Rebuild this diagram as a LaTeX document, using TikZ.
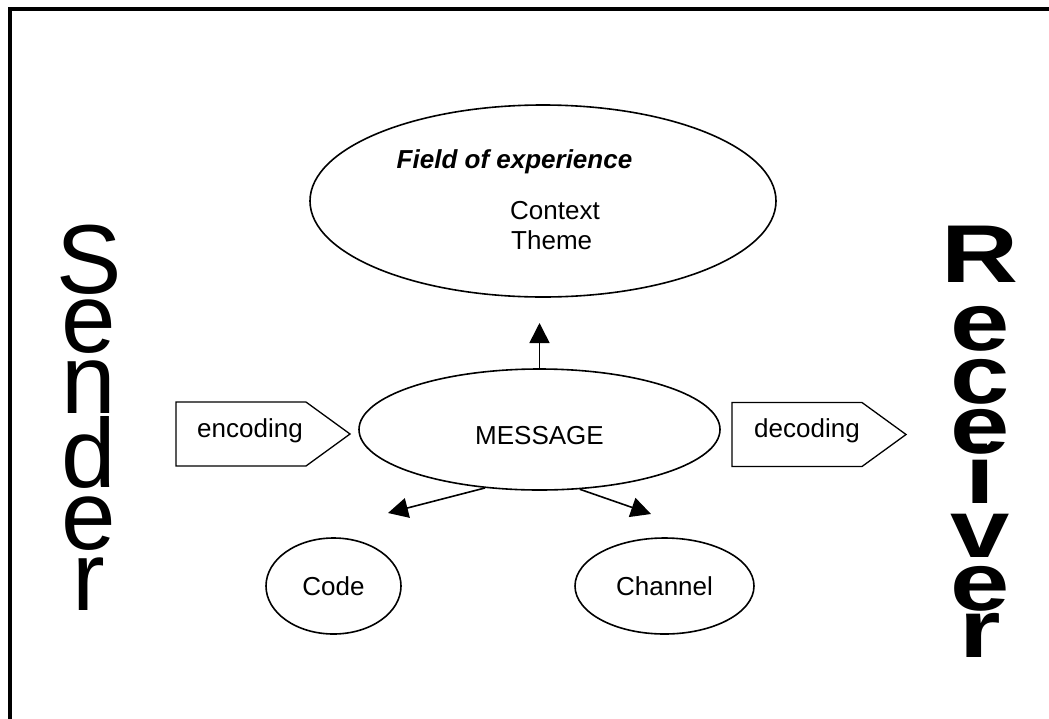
\documentclass[tikz,border=0pt]{standalone}
\usepackage{fontspec}
\setmainfont{Liberation Sans}
\usetikzlibrary{shapes.geometric,shapes.symbols,arrows.meta}

\begin{document}
\begin{tikzpicture}[x=1pt,y=-1pt,
  oval/.style={ellipse, draw, line width=1.6pt, inner sep=0pt,
    font=\fontsize{26}{30}\selectfont},
  tagbox/.style={signal, signal to=east, signal pointer angle=72, draw,
    line width=1.3pt, minimum width=174pt, minimum height=64pt, inner sep=0pt},
  lbl/.style={font=\fontsize{26}{30}\selectfont, anchor=base, inner sep=0pt},
  flow/.style={line width=1.6pt, -{Triangle[length=20pt,width=20pt]}},
  big/.style={font=\fontsize{98}{98}\selectfont, anchor=base, inner sep=0pt},
  bigwide/.style={font=\fontsize{82}{82}\selectfont\bfseries, anchor=base, inner sep=0pt}]
\useasboundingbox (0,0) rectangle (1049,718);
\clip (0,0) rectangle (1049,718);
\fill[white] (0,0) rectangle (1049,718);

% page frame, open to the right and bottom
\draw[line width=4pt] (10,740) -- (10,9) -- (1070,9);

% field of experience
\node[oval, minimum width=466pt, minimum height=192pt] (field) at (543,201) {};
\node[lbl, font=\fontsize{26}{30}\selectfont\bfseries\itshape] (fieldt) at (514.5,168) {Field of experience};
\node[lbl, anchor=base west] (ctx) at (510,219) {Context};
\node[lbl, anchor=base west] (thm) at (511,249) {Theme};

% message and its parts
\node[oval, minimum width=361pt, minimum height=121pt, text height=29pt, text depth=0pt] (msg) at (539.5,429.5) {MESSAGE};
\node[oval, minimum width=135pt, minimum height=96pt] (code) at (333.5,586) {Code};
\node[oval, minimum width=179pt, minimum height=96pt] (chan) at (664.5,586) {Channel};

\coordinate (upTip) at (539.5,323);
\coordinate (codeTip) at (388,513);
\coordinate (chanTip) at (651,514);
\draw[flow] (msg.north) -- (upTip);
\draw[flow] (msg.227) -- (codeTip);
\draw[flow] (msg.-56) -- (chanTip);

% encoding / decoding tags
\node[tagbox] (enc) at (241,434) {};
\node[lbl] (enct) at (250,437) {encoding};
\node[tagbox] (dec) at (797,434.5) {};
\node[lbl] (dect) at (807,437) {decoding};

% vertical words
\foreach \ch/\yy [count=\i] in {S/293,e/352,n/413,d/487,e/549,r/610}
  \node[big] (snd\i) at (89,\yy) {\ch};
\foreach \ch/\yy [count=\i] in {R/282,e/350,c/403,e/453,i/503,v/557,e/610,r/657}
  \node[bigwide] (rcv\i) at (980,\yy) {\scalebox{1.3}[1]{\ch}};
\end{tikzpicture}
\end{document}
